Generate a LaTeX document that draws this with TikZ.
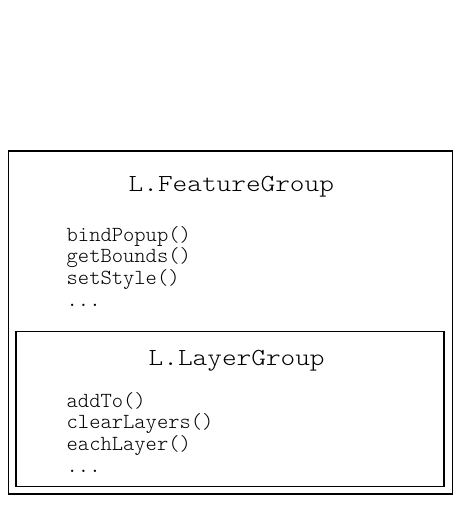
\documentclass[tikz,border=0pt]{standalone}
\usepackage{fontspec}
\newfontfamily\cmono[FakeStretch=1.14]{Latin Modern Mono Light}
\newfontfamily\cmonom{Latin Modern Mono Light}
\begin{document}
\begin{tikzpicture}[x=1pt,y=-1pt,
  box/.style={draw=black, line width=1.3pt, fill=none, inner sep=0pt},
  title/.style={font=\cmono\fontsize{24.5}{28}\selectfont, inner sep=0pt, anchor=base west},
  meth/.style={font=\cmonom\fontsize{21.5}{24}\selectfont, inner sep=0pt, anchor=base west}]
\useasboundingbox (0,0) rectangle (462,505);
\node[box, minimum width=444.2pt, minimum height=343pt] (outer) at (230.6,322.5) {};
\node[box, minimum width=428pt, minimum height=155pt] (inner) at (230,409.2) {};
\node[title] (fg) at (128.5,191.7) {L.FeatureGroup};
\node[meth] (m1) at (66.5,241.2) {bindPopup()};
\node[meth] (m2) at (66.5,262.9) {getBounds()};
\node[meth] (m3) at (66.5,284.6) {setStyle()};
\node[meth] (m4) at (66.5,306.3) {...};
\node[title] (lg) at (148.5,365) {L.LayerGroup};
\node[meth] (n1) at (66.5,407.2) {addTo()};
\node[meth] (n2) at (66.5,428.9) {clearLayers()};
\node[meth] (n3) at (66.5,450.6) {eachLayer()};
\node[meth] (n4) at (66.5,472.3) {...};
\end{tikzpicture}
\end{document}
